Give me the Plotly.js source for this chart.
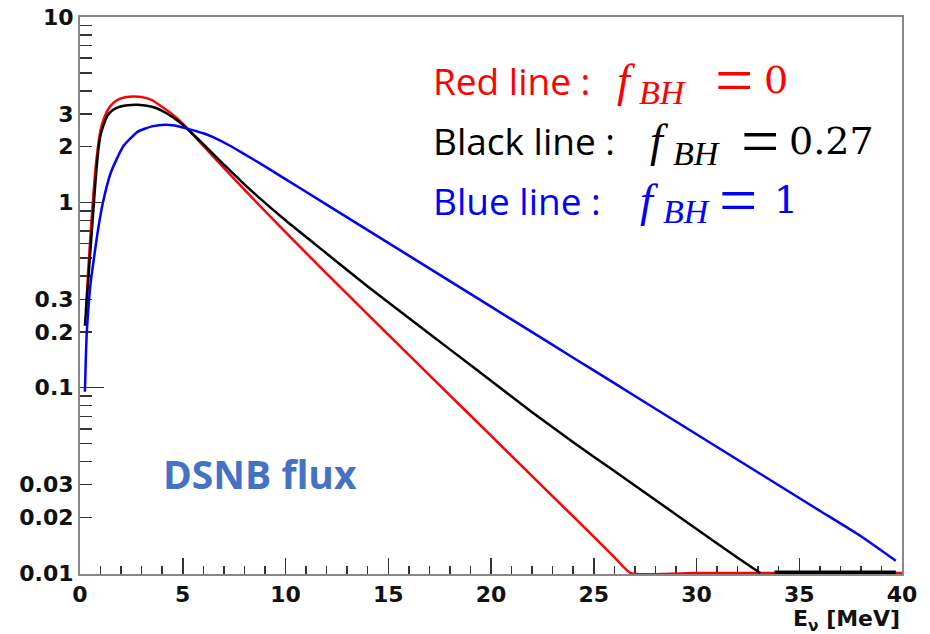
<!DOCTYPE html>
<html><head><meta charset="utf-8">
<script src="https://cdn.plot.ly/plotly-3.0.1.min.js"></script>
<style>html,body{margin:0;padding:0;background:#fff}</style>
</head><body><div id="chart" style="width:930px;height:634px"></div>
<script>
// Red line: f_BH = 0
const redE = [0.29, 0.4, 0.5, 0.6, 0.7, 0.8, 0.9, 1.0, 1.15, 1.35, 1.6, 1.9, 2.2, 2.6, 3.0, 3.5, 3.9, 4.5, 5.0, 6, 7, 8, 10, 12, 14, 16, 18, 20, 22, 24, 26, 26.8, 30, 33.8, 40];
const redV = [0.26, 0.43, 0.64, 0.92, 1.3, 1.7, 2.1, 2.45, 2.8, 3.15, 3.42, 3.6, 3.69, 3.73, 3.70, 3.56, 3.33, 2.98, 2.66, 2.02, 1.535, 1.17, 0.69, 0.413, 0.249, 0.1505, 0.091, 0.0551, 0.0333, 0.0202, 0.0122, 0.01, 0.01, 0.01, 0.01];
// Black line: f_BH = 0.27
const blackE = [0.24, 0.3, 0.4, 0.5, 0.6, 0.7, 0.8, 0.9, 1.0, 1.15, 1.35, 1.6, 1.9, 2.3, 2.8, 3.5, 4.0, 4.5, 5.0, 6, 7, 8, 10, 12, 14, 16, 18, 20, 22, 24, 26, 28, 30, 32, 33.1];
const blackV = [0.216, 0.27, 0.38, 0.54, 0.76, 1.08, 1.5, 1.95, 2.3, 2.62, 2.95, 3.15, 3.27, 3.34, 3.36, 3.28, 3.12, 2.89, 2.62, 2.06, 1.60, 1.25, 0.80, 0.53, 0.352, 0.238, 0.161, 0.109, 0.0737, 0.0508, 0.0355, 0.0248, 0.0173, 0.0121, 0.01];
// Black flat segment along the floor
const blackFloorE = [33.8, 39.7];
const blackFloorV = [0.01, 0.01];
// Blue line: f_BH = 1
const blueE = [0.24, 0.28, 0.33, 0.42, 0.52, 0.68, 0.85, 1.1, 1.5, 2.1, 2.8, 3.5, 4.2, 4.87, 5.26, 6, 6.5, 7.3, 8, 9, 10, 12, 14, 16, 18, 20, 22, 24, 26, 28, 30, 32, 34, 36, 38, 39.7];
const blueV = [0.095, 0.14, 0.2, 0.28, 0.37, 0.5, 0.68, 0.98, 1.45, 2.0, 2.40, 2.57, 2.62, 2.56, 2.49, 2.36, 2.24, 2.02, 1.82, 1.564, 1.335, 0.9725, 0.7083, 0.5159, 0.3758, 0.2737, 0.1994, 0.1452, 0.1058, 0.07705, 0.05612, 0.04088, 0.02978, 0.02169, 0.0158, 0.01165];

const yTickVals = [0.01, 0.02, 0.03, 0.1, 0.2, 0.3, 1, 2, 3, 10];
const yTickText = ['0.01', '0.02', '0.03', '0.1', '0.2', '0.3', '1', '2', '3', '10'];
const yMinorVals = [0.04, 0.05, 0.06, 0.07, 0.08, 0.09, 0.4, 0.5, 0.6, 0.7, 0.8, 0.9, 4, 5, 6, 7, 8, 9];
const yDecades = [0.01, 0.1, 1, 10];

const legendLabels = ['Red line :', 'Black line :', 'Blue line :'];
const legendValues = ['0', '0.27', '1'];
const legendColors = ['#ff0000', '#000000', '#0000ff'];

const tickFont = {family: 'DejaVu Sans, sans-serif', size: 22, weight: 'bold', color: '#111'};
const yRange = [-2.005, 1];

const lw = 2.5;
const traces = [
  {x: redE, y: redV, mode: 'lines', line: {color: '#ff0000', width: lw, shape: 'spline', smoothing: 0.5}, showlegend: false, hoverinfo: 'skip'},
  {x: blackE, y: blackV, mode: 'lines', line: {color: '#000000', width: lw, shape: 'spline', smoothing: 0.5}, showlegend: false, hoverinfo: 'skip'},
  {x: blueE, y: blueV, mode: 'lines', line: {color: '#0000ff', width: lw, shape: 'spline', smoothing: 0.5}, showlegend: false, hoverinfo: 'skip'},
  {x: blackFloorE, y: blackFloorV, yaxis: 'y2', mode: 'lines', line: {color: '#000000', width: 5}, showlegend: false, hoverinfo: 'skip'}
];

// pixel helpers for annotation placement (plot area 80..902 x 17..574)
const px = v => (v - 80) / 822;
const py = v => (574 - v) / 557;

const rowY = [80, 141, 200];
const labelX = [431, 431, 431];
const fX = [615, 648, 638];
const bhX = [637, 671, 661];
const eqX = [713, 739, 717];
const valX = [762, 787, 772];

const serif = 'Liberation Serif, serif';
const annotations = [];
function ann(x, y, text, font) {
  annotations.push({xref: 'paper', yref: 'paper', x: px(x), y: py(y), xanchor: 'left', yanchor: 'middle', showarrow: false, text: text, font: font});
}
for (let i = 0; i < 3; i++) {
  const c = legendColors[i];
  ann(labelX[i], rowY[i], legendLabels[i], {family: 'Open Sans, sans-serif', size: 37, color: c});
  ann(fX[i], rowY[i], '<i>f</i>', {family: serif, size: 46, color: c});
  ann(bhX[i], rowY[i] + 12, '<i>BH</i>', {family: serif, size: 34, color: c});
  ann(eqX[i], rowY[i], '=', {family: serif, size: 68, color: c});
  ann(valX[i], rowY[i], legendValues[i], {family: 'DejaVu Serif, serif', size: 38, color: c});
}
ann(161, 473, 'DSNB flux', {family: 'Open Sans, sans-serif', size: 39, weight: 'bold', color: '#4472C4'});
annotations.push({xref: 'paper', yref: 'paper', x: 1, y: py(604), xanchor: 'right', yanchor: 'top', showarrow: false,
  text: 'E<sub>ν</sub> [MeV]', font: tickFont});

const layout = {
  width: 930, height: 634,
  margin: {l: 80, r: 28, t: 17, b: 60},
  paper_bgcolor: '#fff', plot_bgcolor: '#fff',
  xaxis: {
    range: [0, 40], tick0: 0, dtick: 5, ticks: 'inside', ticklen: 16, tickwidth: 1.5, tickcolor: '#333',
    minor: {dtick: 1, ticks: 'inside', ticklen: 8, tickwidth: 1.5, tickcolor: '#333'},
    showline: true, linecolor: '#888', linewidth: 2, mirror: true, showgrid: false, zeroline: false,
    tickfont: tickFont, layer: 'below traces'
  },
  yaxis: {
    type: 'log', range: yRange, tickmode: 'array', tickvals: yTickVals, ticktext: yTickText,
    ticks: 'inside', ticklen: 12, tickwidth: 1.5, tickcolor: '#333',
    minor: {tickmode: 'array', tickvals: yMinorVals, ticks: 'inside', ticklen: 12, tickwidth: 1.5, tickcolor: '#333'},
    showline: true, linecolor: '#888', linewidth: 2, mirror: true, showgrid: false, zeroline: false,
    tickfont: tickFont, layer: 'below traces'
  },
  yaxis2: {
    type: 'log', range: yRange, overlaying: 'y', side: 'left', tickmode: 'array', tickvals: yDecades,
    ticks: 'inside', ticklen: 24, tickwidth: 1.5, tickcolor: '#333', showticklabels: false,
    showline: false, showgrid: false, zeroline: false
  },
  annotations: annotations
};

Plotly.newPlot('chart', traces, layout, {staticPlot: true, displayModeBar: false});
</script>
</body></html>
